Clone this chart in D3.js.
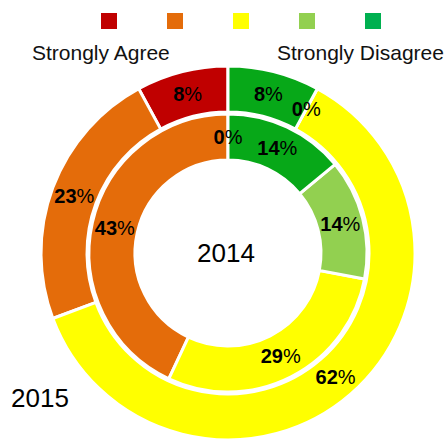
<!DOCTYPE html>
<html>
<head>
<meta charset="utf-8">
<script src="https://cdn.jsdelivr.net/npm/d3@7"></script>
<style>
  body { margin: 0; background: #fff; }
  text { font-family: "Liberation Sans", Arial, sans-serif; }
</style>
</head>
<body>
<div id="chart"></div>
<script>
// chart size
var width = 448;
var height = 439;

// data
var categories = ['Strongly Agree', 'Agree', 'Neutral', 'Disagree', 'Strongly Disagree'];
var values2014 = [0, 43, 29, 14, 14];
var values2015 = [8, 23, 62, 0, 8];
var sliceColors = ['#c00000', '#e46c0a', '#ffff00', '#92d050', '#07a818'];
var legendColors = ['#c00000', '#e46c0a', '#ffff00', '#92d050', '#00b050'];

var cx = 228, cy = 253;

var svg = d3.select('#chart')
  .append('svg')
  .attr('width', width)
  .attr('height', height);

var g = svg.append('g')
  .attr('transform', 'translate(' + cx + ',' + cy + ')');

// counter-clockwise from 12 o'clock
var pie = d3.pie()
  .sort(null)
  .value(function(d) { return d; })
  .startAngle(0)
  .endAngle(-2 * Math.PI);

var innerArc = d3.arc().innerRadius(93).outerRadius(139);
var outerArc = d3.arc().innerRadius(141).outerRadius(187);

function drawRing(values, arc, cls) {
  var arcs = pie(values);
  g.selectAll('path.' + cls)
    .data(arcs)
    .enter()
    .append('path')
      .attr('class', cls)
      .attr('d', arc)
      .attr('fill', function(d, i) { return sliceColors[i]; })
      .attr('stroke', 'white')
      .attr('stroke-width', 3);

  var lbl = g.selectAll('text.' + cls)
    .data(arcs)
    .enter()
    .append('text')
      .attr('class', cls)
      .attr('transform', function(d) { return 'translate(' + arc.centroid(d) + ')'; })
      .attr('text-anchor', 'middle')
      .attr('dy', '0.35em')
      .style('font-size', '20px');
  lbl.append('tspan')
    .style('font-weight', 'bold')
    .text(function(d) { return d.data; });
  lbl.append('tspan')
    .text('%');
}

drawRing(values2015, outerArc, 'outer');
drawRing(values2014, innerArc, 'inner');

// centre + year labels
svg.append('text')
  .attr('x', 226)
  .attr('y', 262)
  .attr('text-anchor', 'middle')
  .style('font-size', '26px')
  .text('2014');

svg.append('text')
  .attr('x', 11)
  .attr('y', 407)
  .style('font-size', '26px')
  .text('2015');

// legend
var legendX = d3.scalePoint()
  .domain(categories)
  .range([109, 373]);

svg.selectAll('rect.legend')
  .data(categories)
  .enter()
  .append('rect')
    .attr('class', 'legend')
    .attr('x', function(d) { return legendX(d) - 8; })
    .attr('y', 13)
    .attr('width', 16)
    .attr('height', 16)
    .attr('fill', function(d, i) { return legendColors[i]; });

svg.append('text')
  .attr('x', 32)
  .attr('y', 60)
  .style('font-size', '21px')
  .style('fill', '#111')
  .text('Strongly Agree');

svg.append('text')
  .attr('x', 277)
  .attr('y', 60)
  .style('font-size', '21px')
  .style('fill', '#111')
  .text('Strongly Disagree');
</script>
</body>
</html>
